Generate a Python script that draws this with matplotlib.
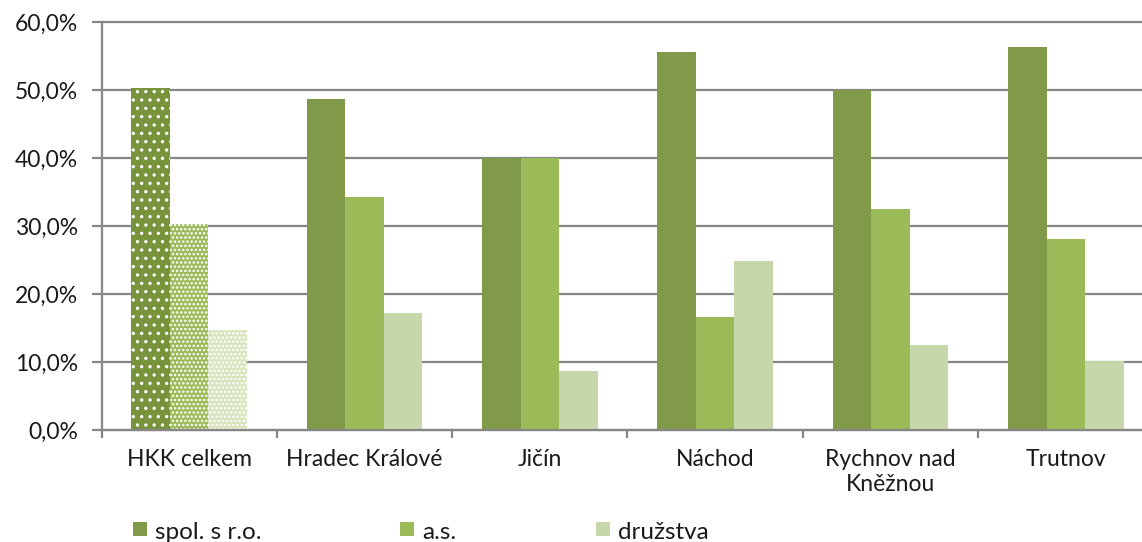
import matplotlib.pyplot as plt
import matplotlib.patches as mpatches
from matplotlib.ticker import FixedLocator, FuncFormatter
import numpy as np

plt.rcParams['font.family'] = ['Lato', 'DejaVu Sans']
plt.rcParams['hatch.linewidth'] = 1.2

categories = ["HKK celkem", "Hradec Králové", "Jičín", "Náchod",
              "Rychnov nad\nKněžnou", "Trutnov"]
series_names = ["spol. s r.o.", "a.s.", "družstva"]
spol_sro = [50.3, 48.7, 40.0, 55.6, 50.0, 56.3]
a_s = [30.3, 34.3, 40.0, 16.6, 32.5, 28.1]
druzstva = [14.7, 17.2, 8.7, 24.9, 12.5, 10.1]
y_ticks = [0, 10, 20, 30, 40, 50, 60]

colors = ["#809A4A", "#9BBB59", "#C7D7AB"]
total_colors = ["#77933C", "#9BBB59", "#D7E4BD"]
total_hatches = ["..", "....", "...."]

W, H = 1142, 542
FS = 16.5
TXT = "#1a1a1a"
fig = plt.figure(figsize=(W / 100, H / 100), dpi=100)
ax = fig.add_axes([101.5 / W, 112 / H, 1052 / W, 408 / H])

x = np.arange(len(categories))
bw = 0.22
series = [spol_sro, a_s, druzstva]
for i, vals in enumerate(series):
    offs = (i - 1) * bw
    bars = ax.bar(x + offs, vals, width=bw, color=colors[i], linewidth=0, zorder=2)
    # the regional total gets a dotted fill
    b = bars[0]
    b.set_facecolor(total_colors[i])
    b.set_hatch(total_hatches[i])
    b.set_edgecolor("white")
    b.set_linewidth(0)

ax.set_xlim(-0.5, len(categories) - 0.5)
ax.set_ylim(0, 60)
ax.yaxis.set_major_locator(FixedLocator(y_ticks))
ax.yaxis.set_major_formatter(FuncFormatter(lambda v, p: f"{v:.1f}%".replace(".", ",")))
ax.grid(axis="y", color="#868686", linewidth=1.6, zorder=0)
ax.set_axisbelow(True)
for gl in ax.get_ygridlines():
    gl.set_clip_on(False)

for s in ["top", "right"]:
    ax.spines[s].set_visible(False)
for s in ["left", "bottom"]:
    ax.spines[s].set_color("#868686")
    ax.spines[s].set_linewidth(1.6)

ax.set_xticks(x)
ax.set_xticklabels(categories, fontsize=FS, color=TXT, linespacing=1.2, va="top")
ax.set_xticks(np.arange(len(categories) + 1) - 0.5, minor=True)
ax.tick_params(axis="x", which="major", length=0, pad=14)
ax.tick_params(axis="x", which="minor", length=6, width=1.6, color="#868686")
ax.tick_params(axis="y", length=7, width=1.6, color="#868686", pad=10,
               labelsize=FS, labelcolor=TXT)

# legend row along the bottom edge
legend_items = [(133, series_names[0]), (400, series_names[1]), (596, series_names[2])]
for (px, name), c in zip(legend_items, colors):
    fig.patches.append(mpatches.Rectangle((px / W, (H - 536) / H), 14 / W, 14 / H,
                                          transform=fig.transFigure, facecolor=c,
                                          edgecolor="none"))
    fig.text((px + 22) / W, (H - 539) / H, name, fontsize=FS + 1, color=TXT,
             va="baseline", ha="left")

fig.savefig("out.png", dpi=100)
